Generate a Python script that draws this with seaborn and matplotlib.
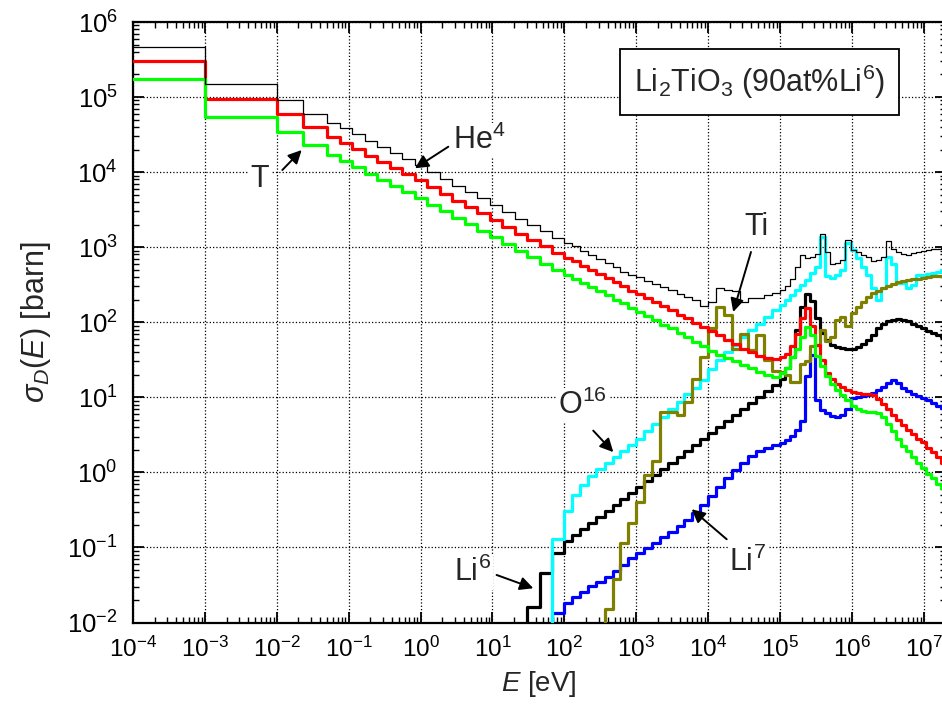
import numpy as np
import matplotlib
matplotlib.use("Agg")
import matplotlib.pyplot as plt
from matplotlib.ticker import LogLocator, NullFormatter
import seaborn as sns

# ---------------- data ----------------
# energy-group boundaries, given as log10(E / eV)
group_log10_E = [-4, -3, -2, -1.64, -1.30, -1.126, -0.952, -0.778, -0.604, -0.430, -0.256, -0.082,
                 0.092, 0.266, 0.440, 0.614, 0.788, 0.962, 1.136, 1.310, 1.484, 1.658, 1.832,
                 2.0, 2.11, 2.22, 2.33, 2.44, 2.56, 2.67, 2.78, 2.89,
                 3.0, 3.11, 3.22, 3.33, 3.44, 3.56, 3.67, 3.78, 3.89,
                 4.0, 4.11, 4.22, 4.33, 4.44, 4.56, 4.67, 4.78, 4.89,
                 5.0, 5.07, 5.14, 5.21, 5.28, 5.35, 5.42, 5.49, 5.56, 5.63, 5.70, 5.77, 5.84, 5.91, 5.98,
                 6.05, 6.12, 6.19, 6.26, 6.33, 6.40, 6.47, 6.54, 6.61, 6.68, 6.75, 6.82, 6.89, 6.96,
                 7.03, 7.10, 7.17, 7.24, 7.31]

# group-wise damage cross sections, given as log10(sigma / barn); -3 = below the plotted range
total_log10 = [5.67, 5.17, 4.96, 4.78, 4.66, 4.59, 4.51, 4.42, 4.34, 4.26, 4.17, 4.09, 4.00, 3.91, 3.82,
               3.74, 3.65, 3.56, 3.47, 3.38, 3.30, 3.21, 3.12, 3.06, 3.01, 2.95, 2.90, 2.84, 2.79, 2.73,
               2.67, 2.63, 2.60, 2.55, 2.51, 2.47, 2.43, 2.38, 2.34, 2.29, 2.22, 2.27, 2.45, 2.43, 2.41,
               2.27, 2.32, 2.32, 2.36, 2.39, 2.43, 2.48, 2.58, 2.74, 2.90, 2.85, 2.87, 2.91, 3.17, 2.94,
               2.77, 2.79, 2.83, 3.09, 2.96, 2.93, 2.90, 2.87, 2.81, 2.83, 2.87, 3.08, 2.98, 2.93, 2.91,
               2.90, 2.92, 2.93, 2.95, 2.96, 2.98, 2.98, 2.99]

he4_log10 = [5.48, 4.98, 4.77, 4.60, 4.47, 4.39, 4.31, 4.22, 4.14, 4.06, 3.97, 3.89, 3.80, 3.71, 3.62,
             3.54, 3.45, 3.36, 3.27, 3.18, 3.10, 3.01, 2.92, 2.86, 2.81, 2.75, 2.70, 2.64, 2.59, 2.53,
             2.48, 2.42, 2.38, 2.32, 2.27, 2.21, 2.16, 2.10, 2.05, 1.99, 1.94, 1.89, 1.83, 1.77, 1.71,
             1.65, 1.60, 1.55, 1.52, 1.51, 1.54, 1.58, 1.68, 1.85, 2.06, 2.19, 1.95, 1.70, 1.50, 1.33,
             1.24, 1.18, 1.14, 1.10, 1.075, 1.06, 1.05, 1.04, 1.03, 0.98, 0.91, 0.84, 0.77, 0.70, 0.63,
             0.57, 0.51, 0.45, 0.40, 0.33, 0.27, 0.20, 0.12]

t_log10 = [5.24, 4.74, 4.53, 4.36, 4.23, 4.15, 4.07, 3.98, 3.90, 3.82, 3.73, 3.65, 3.56, 3.48, 3.39,
           3.31, 3.22, 3.13, 3.04, 2.95, 2.87, 2.78, 2.69, 2.63, 2.58, 2.52, 2.47, 2.41, 2.36, 2.30,
           2.25, 2.19, 2.14, 2.08, 2.03, 1.97, 1.92, 1.86, 1.80, 1.74, 1.68, 1.62, 1.57, 1.53, 1.48,
           1.43, 1.39, 1.34, 1.30, 1.27, 1.32, 1.39, 1.54, 1.65, 1.81, 1.94, 1.83, 1.55, 1.42, 1.29,
           1.18, 1.10, 1.03, 0.96, 0.89, 0.85, 0.82, 0.81, 0.80, 0.79, 0.74, 0.64, 0.55, 0.44, 0.35,
           0.28, 0.20, 0.12, 0.06, -0.02, -0.08, -0.15, -0.21]

o16_log10 = [-3, -3, -3, -3, -3, -3, -3, -3, -3, -3, -3, -3, -3, -3, -3,
             -3, -3, -3, -3, -3, -3, -3, -0.89, -0.52, -0.30, -0.17, -0.05, 0.05, 0.13, 0.21,
             0.29, 0.37, 0.45, 0.55, 0.64, 0.74, 0.84, 0.94, 1.04, 1.13, 1.23, 1.38, 1.50, 1.60, 1.70,
             1.80, 1.90, 1.98, 2.07, 2.16, 2.23, 2.30, 2.36, 2.43, 2.50, 2.56, 2.65, 2.74, 3.14, 2.62,
             2.59, 2.63, 2.70, 3.05, 2.96, 2.85, 2.74, 2.63, 2.45, 2.30, 2.45, 2.87, 2.78, 2.52, 2.52,
             2.46, 2.50, 2.63, 2.63, 2.64, 2.65, 2.67, 2.70]

li6_log10 = [-3, -3, -3, -3, -3, -3, -3, -3, -3, -3, -3, -3, -3, -3, -3,
             -3, -3, -3, -3, -3, -1.79, -1.34, -1.08, -0.92, -0.84, -0.76, -0.68, -0.60, -0.52, -0.44,
             -0.36, -0.28, -0.20, -0.12, -0.04, 0.04, 0.12, 0.20, 0.28, 0.36, 0.44, 0.52, 0.60, 0.68, 0.76,
             0.84, 0.92, 1.00, 1.08, 1.17, 1.24, 1.39, 1.54, 1.90, 2.20, 2.38, 2.28, 2.05, 1.86, 1.76,
             1.70, 1.67, 1.66, 1.65, 1.65, 1.67, 1.71, 1.76, 1.83, 1.92, 1.98, 2.02, 2.03, 2.04, 2.03,
             2.01, 1.98, 1.95, 1.92, 1.89, 1.86, 1.83, 1.81]

ti_log10 = [-3, -3, -3, -3, -3, -3, -3, -3, -3, -3, -3, -3, -3, -3, -3,
            -3, -3, -3, -3, -3, -3, -3, -3, -3, -3, -3, -3, -3, -1.82, -1.42,
            -0.94, -0.68, -0.39, -0.03, 0.15, 0.81, 0.80, 0.77, 0.94, 1.25, 1.54, 1.92, 2.20, 2.10, 1.65,
            1.85, 1.63, 1.83, 1.50, 1.35, 1.34, 1.30, 1.21, 1.21, 1.45, 1.48, 1.68, 1.70, 1.90, 1.75,
            1.81, 2.03, 2.07, 1.95, 2.12, 2.20, 2.27, 2.34, 2.39, 2.42, 2.45, 2.48, 2.51, 2.53, 2.55,
            2.56, 2.57, 2.58, 2.59, 2.60, 2.61, 2.615, 2.62]

li7_log10 = [-3, -3, -3, -3, -3, -3, -3, -3, -3, -3, -3, -3, -3, -3, -3,
             -3, -3, -3, -3, -3, -3, -3, -1.88, -1.74, -1.66, -1.59, -1.52, -1.46, -1.39, -1.32,
             -1.23, -1.14, -1.08, -1.01, -0.94, -0.86, -0.79, -0.72, -0.63, -0.54, -0.44, -0.32, -0.20, -0.08, 0.03,
             0.13, 0.22, 0.28, 0.32, 0.36, 0.39, 0.43, 0.48, 0.57, 0.68, 1.28, 1.56, 0.97, 0.83, 0.79,
             0.75, 0.74, 0.76, 0.85, 0.99, 1.01, 1.02, 1.03, 1.06, 1.10, 1.14, 1.19, 1.23, 1.19, 1.12,
             1.08, 1.05, 1.02, 0.99, 0.96, 0.93, 0.89, 0.86]

series_names = ["Li6", "Li7", "O16", "Ti", "He4", "T", "Total"]
series_data = [li6_log10, li7_log10, o16_log10, ti_log10, he4_log10, t_log10, total_log10]
series_colors = ["#000000", "#0000ff", "#00ffff", "#808000", "#ff0000", "#00ff00", "#000000"]
series_widths = [2.3, 2.3, 2.3, 2.3, 2.3, 2.3, 0.9]

x_tick_exponents = list(range(-4, 8))
y_tick_exponents = list(range(-2, 7))

# ---------------- style ----------------
sns.set_style("ticks")
plt.rcParams["font.family"] = ["Liberation Sans", "DejaVu Sans"]
plt.rcParams["mathtext.fontset"] = "custom"
plt.rcParams["mathtext.rm"] = "Liberation Sans"
plt.rcParams["mathtext.it"] = "Liberation Sans:italic"
plt.rcParams["mathtext.bf"] = "Liberation Sans:bold"
plt.rcParams["mathtext.sf"] = "Liberation Sans"

fig = plt.figure(figsize=(9.42, 7.2), dpi=100)
ax = fig.add_axes([133 / 942, 97.5 / 720, 812.5 / 942, 600.5 / 720])
ax.set_xscale("log")
ax.set_yscale("log")

E_edges = 10.0 ** np.array(group_log10_E)
for name, vals, col, lw in zip(series_names, series_data, series_colors, series_widths):
    sig = 10.0 ** np.array(vals + [vals[-1]])
    sns.lineplot(x=E_edges, y=sig, ax=ax, color=col, linewidth=lw,
                 drawstyle="steps-post", estimator=None, sort=False, legend=False,
                 zorder=3 if name != "Total" else 4)

ax.xaxis.set_minor_locator(LogLocator(base=10, subs=np.arange(2, 10), numticks=30))
ax.yaxis.set_minor_locator(LogLocator(base=10, subs=np.arange(2, 10), numticks=30))
ax.set_xticks([10.0 ** k for k in x_tick_exponents])
ax.set_xticklabels([r"$10^{%d}$" % k for k in x_tick_exponents])
ax.set_yticks([10.0 ** k for k in y_tick_exponents])
ax.set_yticklabels([r"$10^{%d}$" % k for k in y_tick_exponents])
ax.xaxis.set_minor_formatter(NullFormatter())
ax.yaxis.set_minor_formatter(NullFormatter())
ax.set_xlim(1e-4, 2e7)
ax.set_ylim(1e-2, 1e6)

ax.tick_params(which="both", direction="in", top=True, right=True, colors="black")
ax.tick_params(which="major", length=8, width=1.3)
ax.tick_params(axis="x", which="major", pad=10, labelsize=17.5)
ax.tick_params(axis="y", which="major", pad=11, labelsize=18.5)
ax.tick_params(which="minor", length=4.5, width=1.0)
for sp in ax.spines.values():
    sp.set_linewidth(1.6)
    sp.set_color("black")

ax.grid(True, which="major", color="black", linestyle=":", linewidth=0.9)
ax.set_axisbelow(True)

ax.set_xlabel(r"$E$ [eV]", fontsize=20, labelpad=5)
ax.set_ylabel(r"$\sigma_D(E)$ [barn]", fontsize=22, labelpad=10)

# ---------------- annotations ----------------
txt_kw = dict(fontsize=22, ha="center", va="center", zorder=6,
              bbox=dict(fc="white", ec="none", pad=1.0))
arr_kw = dict(arrowstyle="-|>", color="black", lw=1.4, mutation_scale=20,
              shrinkA=0, shrinkB=0)

labels = [
    (r"He$^{4}$", (6.5, 2.68e4), (2.43, 2.18e4), (0.836, 1.125e4)),
    (r"T", (5.83e-3, 8.1e3), (0.01194, 1.067e4), (0.02218, 1.97e4)),
    (r"Ti", (4.7e4, 1.83e3), (3.94e4, 863), (2.23e4, 137)),
    (r"O$^{16}$", (179, 7.9), (252, 3.6), (479, 1.86)),
    (r"Li$^{6}$", (5.27, 0.0465), (11.4, 0.043), (37.0, 0.0286)),
    (r"Li$^{7}$", (3.57e4, 0.063), (1.81e4, 0.1285), (5.9e3, 0.323)),
]
for text, tpos, start, tip in labels:
    ax.text(tpos[0], tpos[1], text, **txt_kw)
    ax.annotate("", xy=tip, xytext=start, arrowprops=arr_kw, zorder=6)

ax.text(0.771, 0.900, r"Li$_2$TiO$_3$ (90at%Li$^6$)", transform=ax.transAxes,
        fontsize=22, ha="center", va="center", zorder=7,
        bbox=dict(boxstyle="square,pad=0.45", fc="white", ec="black", lw=1.3))

fig.savefig("out.png", dpi=100)
